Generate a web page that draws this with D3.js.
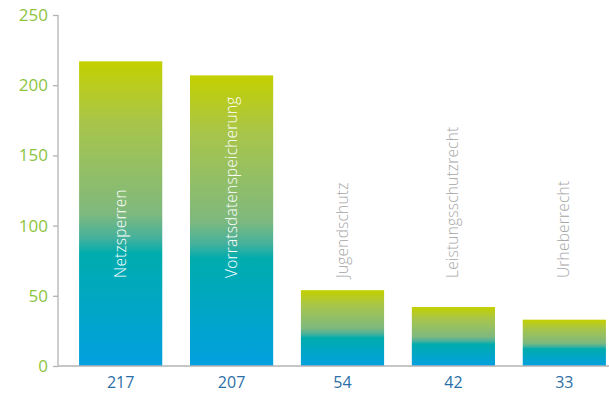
<!DOCTYPE html>
<html lang="de">
<head>
    <meta charset="UTF-8">
    <title>d3.js</title>
    <script src="https://cdn.jsdelivr.net/npm/d3@7"></script>
    <style>
        body { margin: 0; background: #fff; }
        text { font-family: "Open Sans", "DejaVu Sans", sans-serif; }
    </style>
</head>
<body>
<div id="output"></div>

<script>

var themen = ["Netzsperren", "Vorratsdatenspeicherung", "Jugendschutz", "Leistungsschutzrecht", "Urheberrecht"];
var werte = [217, 207, 54, 42, 33];
var yTicks = [0, 50, 100, 150, 200, 250];

var w = 609;
var h = 393;

var svg = d3.select("#output")
    .append("svg")
    .attr("width", w)
    .attr("height", h);

var x = d3.scaleBand()
    .domain(themen)
    .range([58, 627])
    .paddingInner(0.25)
    .paddingOuter(0.19);

var y = d3.scaleLinear()
    .domain([0, 250])
    .range([366, 15]);

// gradient, one per bar (bounding box)
var grad = svg.append("defs").append("linearGradient")
    .attr("id", "barGrad")
    .attr("x1", 0).attr("y1", 0)
    .attr("x2", 0).attr("y2", 1);

[[0, "#c4d000"], [0.2, "#a8c54a"], [0.5, "#7fb97e"], [0.58, "#45b19c"], [0.63, "#00acad"], [1, "#02a0e0"]]
    .forEach(function (s) {
        grad.append("stop").attr("offset", s[0]).attr("stop-color", s[1]);
    });

svg.selectAll("rect.bar")
    .data(werte)
    .enter()
    .append("rect")
    .attr("class", "bar")
    .attr("x", function (d, i) { return x(themen[i]); })
    .attr("y", function (d) { return y(d); })
    .attr("width", x.bandwidth())
    .attr("height", function (d) { return y(0) - y(d); })
    .attr("fill", "url(#barGrad)");

// y axis
var yAxis = svg.append("g")
    .attr("transform", "translate(58,0)")
    .call(d3.axisLeft(y).tickValues(yTicks).tickSize(5).tickPadding(5));

yAxis.select(".domain").attr("stroke", "#b3b3b3").attr("stroke-width", 1.3)
    .attr("d", "M0," + y(250) + "V" + y(0));
yAxis.selectAll(".tick line").attr("stroke", "#b3b3b3").attr("stroke-width", 1.3);
yAxis.selectAll(".tick text")
    .attr("fill", "#8cc43f")
    .style("font-size", "17px")
    .style("font-family", "'Open Sans', sans-serif");

// x axis line
svg.append("line")
    .attr("x1", 58).attr("x2", w)
    .attr("y1", y(0)).attr("y2", y(0))
    .attr("stroke", "#b3b3b3")
    .attr("stroke-width", 1.3);

// values under bars
svg.selectAll("text.wert")
    .data(werte)
    .enter()
    .append("text")
    .attr("class", "wert")
    .attr("x", function (d, i) { return x(themen[i]) + x.bandwidth() / 2; })
    .attr("y", 388)
    .attr("text-anchor", "middle")
    .attr("fill", "#2c6fa6")
    .style("font-size", "16px")
    .text(function (d) { return d; });

// rotated category labels
svg.selectAll("text.thema")
    .data(themen)
    .enter()
    .append("text")
    .attr("class", "thema")
    .attr("transform", function (d) {
        return "translate(" + (x(d) + x.bandwidth() / 2 + 5) + "," + 278 + ") rotate(-90)";
    })
    .attr("text-anchor", "start")
    .attr("fill", function (d, i) { return y(werte[i]) < 278 - 150 ? "#ffffff" : "#a6a6a6"; })
    .style("font-size", "15.5px")
    .style("letter-spacing", "0.2px")
    .style("font-weight", 300)
    .text(function (d) { return d; });

</script>
</body>
</html>
